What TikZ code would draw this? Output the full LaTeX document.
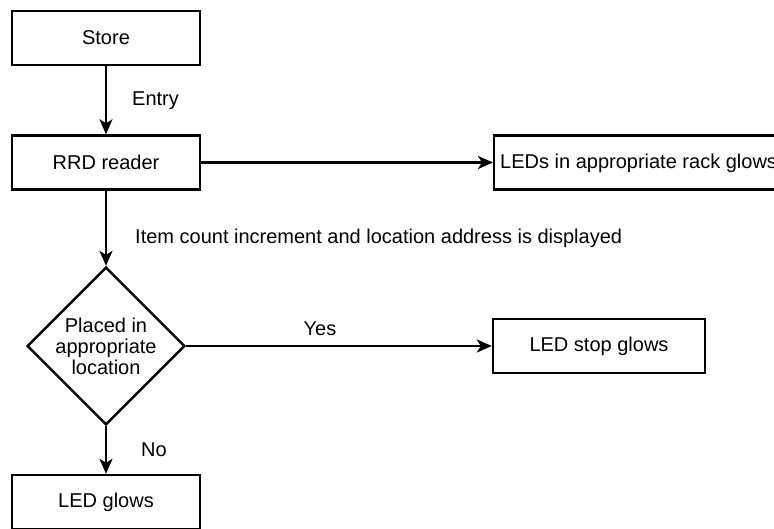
\documentclass[tikz,border=0pt]{standalone}
\usepackage{fontspec}
\setmainfont{Liberation Sans}
\usetikzlibrary{arrows.meta,shapes.geometric}
\begin{document}
\begin{tikzpicture}[x=1pt,y=-1pt,
  box/.style={draw,line width=2.4pt,rectangle,minimum width=188pt,minimum height=54pt,inner sep=0pt,font=\fontsize{20}{22}\selectfont},
  decision/.style={draw,line width=2.4pt,diamond,minimum width=157pt,minimum height=152pt,inner sep=0pt,align=center,font=\fontsize{20}{21}\selectfont},
  lbl/.style={font=\fontsize{20}{22}\selectfont,inner sep=0pt},
  conn/.style={line width=2.4pt,-{Stealth[length=15pt,width=13pt,inset=4pt]}}]
\useasboundingbox (0,0) rectangle (774,529);
\clip (0,0) rectangle (774,529);
\node[box] (store) at (106,38) {Store};
\node[box] (rrd) at (106,162.5) {RRD reader};
\node[box,minimum width=300pt,anchor=west] (rack) at (493,162.5) {};
\node[lbl,anchor=west] (racktext) at (500,163) {LEDs in appropriate rack glows};
\node[decision] (dec) at (106,346) {Placed in\\appropriate\\location};
\node[box,minimum width=212pt] (stop) at (599,346) {LED stop glows};
\node[box] (glows) at (106,502) {LED glows};
\draw[conn] (store) -- node[lbl,right=25pt] {Entry} (rrd);
\draw[conn] (rrd) -- (rack);
\draw[conn] (rrd) -- (dec);
\node[lbl,anchor=west] (count) at (135,238) {Item count increment and location address is displayed};
\draw[conn] (dec) -- (stop);
\node[lbl] (yes) at (320,329) {Yes};
\draw[conn] (dec) -- node[lbl,right=34pt] {No} (glows);
\end{tikzpicture}
\end{document}
